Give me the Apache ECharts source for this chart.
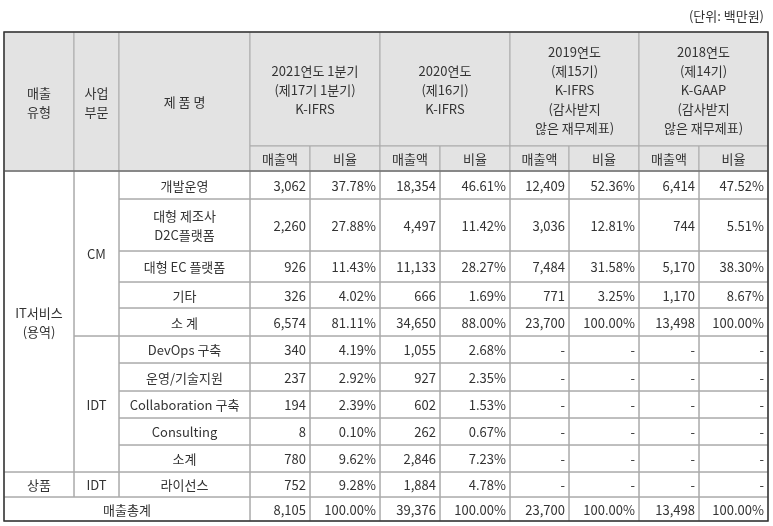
<!DOCTYPE html>
<html style="height: 100%">
<head>
<meta charset="utf-8">
<script src="https://cdn.jsdelivr.net/npm/echarts@6/dist/echarts.min.js"></script>
</head>
<body style="height: 100%; margin: 0; background:#fff">
<div id="container" style="width:773px; height:526px"></div>
<script>
// 데이터
var periods = ['2021연도 1분기\n(제17기 1분기)\nK-IFRS', '2020연도\n(제16기)\nK-IFRS',
	'2019연도\n(제15기)\nK-IFRS\n(감사받지\n않은 재무제표)', '2018연도\n(제14기)\nK-GAAP\n(감사받지\n않은 재무제표)'];
var products = ['개발운영', '대형 제조사\nD2C플랫폼', '대형 EC 플랫폼', '기타', '소 계',
	'DevOps 구축', '운영/기술지원', 'Collaboration 구축', 'Consulting', '소계', '라이선스', '매출총계'];
var sales2021 = ['3,062', '2,260', '926', '326', '6,574', '340', '237', '194', '8', '780', '752', '8,105'];
var ratio2021 = ['37.78%', '27.88%', '11.43%', '4.02%', '81.11%', '4.19%', '2.92%', '2.39%', '0.10%', '9.62%', '9.28%', '100.00%'];
var sales2020 = ['18,354', '4,497', '11,133', '666', '34,650', '1,055', '927', '602', '262', '2,846', '1,884', '39,376'];
var ratio2020 = ['46.61%', '11.42%', '28.27%', '1.69%', '88.00%', '2.68%', '2.35%', '1.53%', '0.67%', '7.23%', '4.78%', '100.00%'];
var sales2019 = ['12,409', '3,036', '7,484', '771', '23,700', '-', '-', '-', '-', '-', '-', '23,700'];
var ratio2019 = ['52.36%', '12.81%', '31.58%', '3.25%', '100.00%', '-', '-', '-', '-', '-', '-', '100.00%'];
var sales2018 = ['6,414', '744', '5,170', '1,170', '13,498', '-', '-', '-', '-', '-', '-', '13,498'];
var ratio2018 = ['47.52%', '5.51%', '38.30%', '8.67%', '100.00%', '-', '-', '-', '-', '-', '-', '100.00%'];

// 레이아웃
var colX = [4, 74, 119, 250, 310, 380, 440, 510, 569, 639, 699, 768];
var rowY = [171, 199, 251, 282, 308, 336, 363, 391, 418, 445, 472, 497, 521];
var tableTop = 32, subTop = 146;
var font = '13px "Noto Sans CJK KR"';
var txtColor = '#333';
var g = [];

function addRect(x1, y1, x2, y2, fill) {
	g.push({type: 'rect', shape: {x: x1, y: y1, width: x2 - x1, height: y2 - y1},
		style: {fill: fill || 'none', stroke: '#aaa', lineWidth: 1}, z: 1});
}
function addText(s, x, y, align) {
	g.push({type: 'text', x: x, y: y, z: 5,
		style: {text: s, font: font, fill: txtColor, align: align || 'center', verticalAlign: 'middle', lineHeight: 19}});
}
function cell(s, x1, y1, x2, y2, align, fill) {
	addRect(x1, y1, x2, y2, fill);
	if (align === 'right') addText(s, x2 - 4, (y1 + y2) / 2 + 1, 'right');
	else addText(s, (x1 + x2) / 2, (y1 + y2) / 2 + 1, 'center');
}

var hd = '#e3e3e3';
// 헤더
cell('매출\n유형', colX[0], tableTop, colX[1], rowY[0], 'center', hd);
cell('사업\n부문', colX[1], tableTop, colX[2], rowY[0], 'center', hd);
cell('제 품 명', colX[2], tableTop, colX[3], rowY[0], 'center', hd);
for (var p = 0; p < 4; p++) {
	var a = colX[3 + p * 2], b = colX[4 + p * 2], c = colX[5 + p * 2];
	cell(periods[p], a, tableTop, c, subTop, 'center', hd);
	cell('매출액', a, subTop, b, rowY[0], 'center', hd);
	cell('비율', b, subTop, c, rowY[0], 'center', hd);
}
// 본문
cell('IT서비스\n(용역)', colX[0], rowY[0], colX[1], rowY[10]);
cell('CM', colX[1], rowY[0], colX[2], rowY[5]);
cell('IDT', colX[1], rowY[5], colX[2], rowY[10]);
cell('상품', colX[0], rowY[10], colX[1], rowY[11]);
cell('IDT', colX[1], rowY[10], colX[2], rowY[11]);
var cols = [sales2021, ratio2021, sales2020, ratio2020, sales2019, ratio2019, sales2018, ratio2018];
for (var r = 0; r < products.length; r++) {
	var y1 = rowY[r], y2 = rowY[r + 1];
	if (r === 11) cell(products[r], colX[0], y1, colX[3], y2);
	else cell(products[r], colX[2], y1, colX[3], y2);
	for (var k = 0; k < cols.length; k++) cell(cols[k][r], colX[3 + k], y1, colX[4 + k], y2, 'right');
}
// 외곽선
g.push({type: 'rect', shape: {x: colX[0], y: tableTop, width: colX[11] - colX[0], height: rowY[12] - tableTop},
	style: {fill: 'none', stroke: '#333', lineWidth: 1.5}, z: 3});
g.push({type: 'line', shape: {x1: colX[0], y1: rowY[0], x2: colX[11], y2: rowY[0]}, style: {stroke: '#555', lineWidth: 1}, z: 3});
addText('(단위: 백만원)', 764, 16, 'right');

var myChart = echarts.init(document.getElementById('container'));
myChart.setOption({animation: false, graphic: g});
</script>
</body>
</html>
